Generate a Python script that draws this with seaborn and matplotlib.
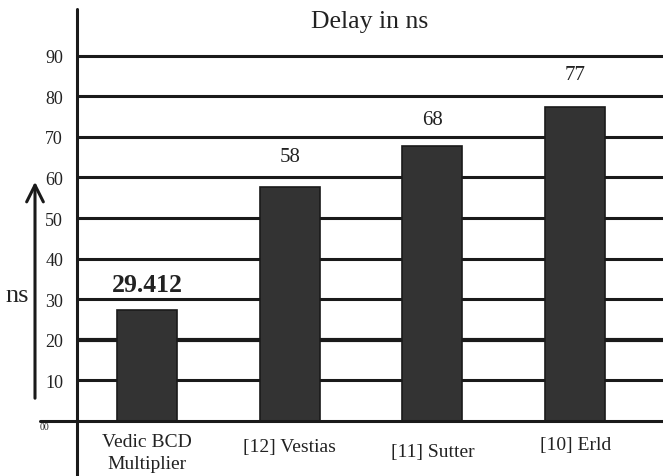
import pandas as pd
import seaborn as sns
import matplotlib.pyplot as plt
from matplotlib.lines import Line2D

# Data
designs = ['Vedic BCD\nMultiplier', '[12] Vestias', '[11] Sutter', '[10] Erld']
delay = [27.4, 57.6, 67.7, 77.3]
labels = ['29.412', '58', '68', '77']
yticks = [10, 20, 30, 40, 50, 60, 70, 80, 90]

df = pd.DataFrame({'design': designs, 'delay': delay})

sns.set_style('white')
plt.rcParams['font.family'] = ['Liberation Serif', 'DejaVu Serif']

fig = plt.figure(figsize=(6.63, 4.77), dpi=100)
ax = fig.add_axes([77 / 663, 55 / 477, 586 / 663, 412 / 477])

# horizontal grid lines
for t in yticks:
    ax.axhline(t, color='#1a1a1a', lw=3.0 if t == 20 else 2.2, zorder=1)

sns.barplot(data=df, x='design', y='delay', order=designs, color='#333333',
            edgecolor='#1a1a1a', linewidth=1.2, width=0.42, saturation=1, ax=ax, zorder=2)

ax.set_xlim(-0.49, 3.615)
ax.set_ylim(0, 101.5)
for s in ax.spines.values():
    s.set_visible(False)

ax.set_yticks(yticks)
ax.set_yticklabels([str(t) for t in yticks], fontsize=13, color='#222222')
ax.tick_params(axis='y', length=0, pad=10)
ax.set_xticks([])
ax.set_xlabel('')
ax.set_ylabel('')

# x tick labels below axis
label_y = [-7.7, -6.2, -7.4, -5.9]
for i, (d, ly) in enumerate(zip(designs, label_y)):
    ax.text(i, ly, d, ha='center', va='center', fontsize=14, linespacing=1.35,
            color='#222222')

# value labels above bars
label_off = [6.3, 7.6, 6.5, 8.0]
for i, (v, lab, off) in enumerate(zip(delay, labels, label_off)):
    ax.text(i, v + off, lab, ha='center', va='center',
            fontsize=18.5 if i == 0 else 15, color='#222222',
            fontweight='bold' if i == 0 else 'normal')

ax.text(0.5, 1 - 12 / 412, 'Delay in ns', transform=ax.transAxes, ha='center',
        va='center', fontsize=18.5, color='#222222')

# axis lines extending beyond plot
fig.add_artist(Line2D([77 / 663, 77 / 663], [0, 1 - 10 / 477], color='#1a1a1a', lw=2.2))
fig.add_artist(Line2D([40 / 663, 1], [55 / 477, 55 / 477], color='#1a1a1a', lw=2.2))
fig.text(40 / 663, 49 / 477, '00', fontsize=7, ha='left', va='center', color='#222222')

# arrow and ns label on the left
ax.annotate('', xy=(35 / 663, 1 - 180 / 477), xytext=(35 / 663, 1 - 402 / 477),
            xycoords='figure fraction', textcoords='figure fraction',
            arrowprops=dict(arrowstyle='->', lw=2.2, color='#1a1a1a', mutation_scale=30))
fig.text(5 / 663, 1 - 296 / 477, 'ns', fontsize=19, ha='left', va='center',
         color='#222222')

fig.savefig('out.png', dpi=100)
